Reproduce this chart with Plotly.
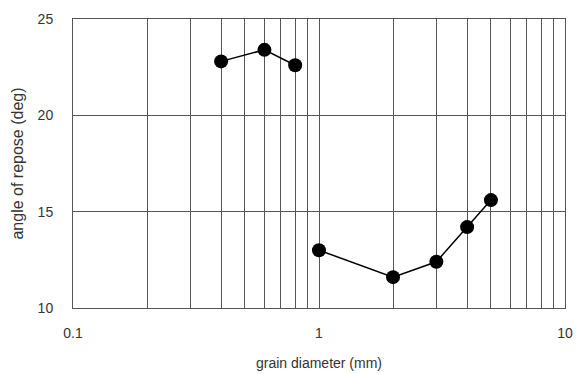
import plotly.graph_objects as go

# grain diameter (mm) and angle of repose (deg), two size groups
fine_diam = [0.4, 0.6, 0.8]
fine_angle = [22.8, 23.4, 22.6]
coarse_diam = [1, 2, 3, 4, 5]
coarse_angle = [13.0, 11.6, 12.4, 14.2, 15.6]

x_ticks = [0.1, 1, 10]
x_tick_text = ["0.1", "1", "10"]
y_ticks = [10, 15, 20, 25]

font_family = "Liberation Sans, Arial, sans-serif"
grid_color = "#555555"
text_color = "#333333"

fig = go.Figure()
for xs, ys in [(fine_diam, fine_angle), (coarse_diam, coarse_angle)]:
    fig.add_trace(go.Scatter(
        x=xs, y=ys, mode="lines+markers",
        line=dict(color="black", width=1.5),
        marker=dict(color="black", size=14),
        showlegend=False,
    ))

fig.update_xaxes(
    type="log", range=[-1, 1], automargin=False,
    tickvals=x_ticks, ticktext=x_tick_text,
    showgrid=True, gridcolor=grid_color, gridwidth=1,
    minor=dict(showgrid=True, gridcolor=grid_color, gridwidth=1, dtick="D1"),
    showline=True, linecolor=grid_color, linewidth=1, mirror=True,
    ticks="", ticklabelstandoff=12,
    tickfont=dict(family=font_family, size=14, color=text_color),
    title=dict(text="grain diameter (mm)", standoff=18,
               font=dict(family=font_family, size=14, color=text_color)),
    zeroline=False,
)
fig.update_yaxes(
    range=[10, 25], tickvals=y_ticks, automargin=False,
    showgrid=True, gridcolor=grid_color, gridwidth=1,
    showline=True, linecolor=grid_color, linewidth=1, mirror=True,
    ticks="", ticklabelstandoff=16,
    tickfont=dict(family=font_family, size=14, color=text_color),
    title=dict(text="angle of repose (deg)", standoff=10,
               font=dict(family=font_family, size=16, color=text_color)),
    zeroline=False,
)

fig.update_layout(
    width=576, height=374,
    margin=dict(l=73, r=11, t=19, b=66),
    paper_bgcolor="white", plot_bgcolor="white",
)

fig.write_html("out.html")
